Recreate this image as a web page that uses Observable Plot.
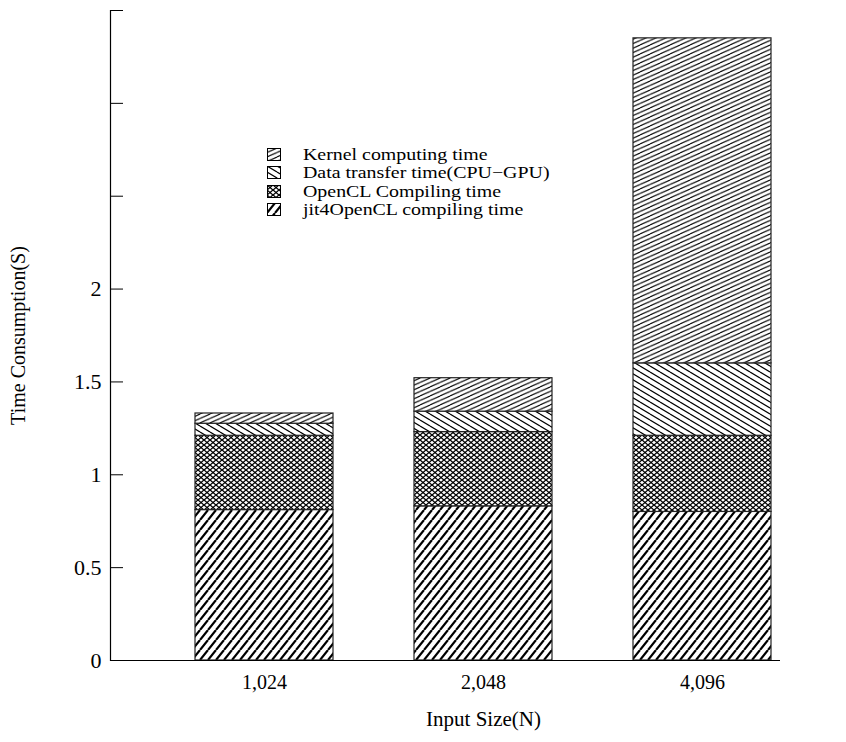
<!DOCTYPE html>
<html><head><meta charset="utf-8">
<script src="https://cdn.jsdelivr.net/npm/d3@7"></script>
<script src="https://cdn.jsdelivr.net/npm/@observablehq/plot@0.6"></script>
<style>
body{margin:0;background:#fff;}
#wrap{position:relative;width:846px;height:742px;font-family:"Liberation Serif","Times New Roman",serif;}
#legend{position:absolute;left:267px;top:145px;font-size:17px;line-height:17px;color:#000;}
.row{display:flex;align-items:center;height:18.5px;white-space:nowrap;}
.row svg{margin-right:21px;flex:none;}
.row span{display:inline-block;transform:scaleX(1.17);transform-origin:0 50%;}
</style></head><body>
<svg width="0" height="0" style="position:absolute">
<defs>
<pattern id="pat-kern" patternUnits="userSpaceOnUse" width="10" height="4.5">
<rect width="10" height="4.5" fill="#fff"/>
<path d="M0,4.5L10,0M0,0L10,-4.5M0,9L10,4.5" stroke="#000" stroke-width="1.1" fill="none"/></pattern>
<pattern id="pat-dt" patternUnits="userSpaceOnUse" width="10" height="6">
<rect width="10" height="6" fill="#fff"/>
<path d="M0,0L10,6M0,-6L10,0M0,6L10,12" stroke="#000" stroke-width="1.2" fill="none"/></pattern>
<pattern id="pat-ocl" patternUnits="userSpaceOnUse" width="6" height="5">
<rect width="6" height="5" fill="#fff"/>
<path d="M0,0L6,5M0,5L6,0" stroke="#000" stroke-width="1.3" fill="none"/></pattern>
<pattern id="pat-jit" patternUnits="userSpaceOnUse" width="8" height="10">
<rect width="8" height="10" fill="#fff"/>
<path d="M0,10L8,0M-8,10L0,0M8,10L16,0" stroke="#000" stroke-width="2.2" fill="none"/></pattern>
</defs></svg>
<div id="wrap"><div id="legend"></div></div>
<script>
const sizes = ["1,024", "2,048", "4,096"];
const series = ["jit4OpenCL compiling time", "OpenCL Compiling time", "Data transfer time(CPU\u2212GPU)", "Kernel computing time"];
const jitTime = [0.81, 0.83, 0.80];
const openclTime = [0.40, 0.40, 0.41];
const transferTime = [0.065, 0.11, 0.39];
const kernelTime = [0.055, 0.18, 1.75];
const yTicks = [0, 0.5, 1, 1.5, 2, 2.5, 3, 3.5];
const yLabeled = [0, 0.5, 1, 1.5, 2];
const patterns = ["url(#pat-jit)", "url(#pat-ocl)", "url(#pat-dt)", "url(#pat-kern)"];

const valuesBySeries = [jitTime, openclTime, transferTime, kernelTime];
const rows = [];
sizes.forEach((s, i) => series.forEach((name, k) => rows.push({size: s, series: name, value: valuesBySeries[k][i]})));

const font = '"Liberation Serif","Times New Roman",serif';
const chart = Plot.plot({
  width: 846, height: 742,
  marginLeft: 110, marginRight: 66, marginTop: 10, marginBottom: 82,
  style: {fontFamily: font, fontSize: "20px", color: "#000", background: "white"},
  x: {domain: sizes, range: [194, 772], paddingInner: 0.37, paddingOuter: 0, label: null},
  y: {domain: [0, 3.5], label: null},
  color: {domain: series, range: patterns, type: "ordinal"},
  marks: [
    Plot.barY(rows, {x: "size", y: "value", fill: "series", order: series, stroke: "#222", strokeWidth: 1.2}),
    Plot.ruleY([0], {stroke: "#000", strokeWidth: 1.2}),
    Plot.frame({anchor: "left", stroke: "#000", strokeWidth: 1.2}),
    Plot.axisY({ticks: yTicks, tickSize: -13, tickPadding: 22, fontSize: 22,
      tickFormat: d => yLabeled.includes(d) ? String(d) : "", label: null}),
    Plot.axisX({tickSize: 0, tickPadding: 14, fontSize: 20, label: null}),
    Plot.text(["Time Consumption(S)"], {frameAnchor: "left", textAnchor: "middle", rotate: -90, dx: -92, fontSize: 20, fill: "#000"}),
    Plot.text(["Input Size(N)"], {x: () => sizes[1], frameAnchor: "bottom", dy: 65, fontSize: 21, fill: "#000"})
  ]
});
document.getElementById("wrap").prepend(chart);

const legend = document.getElementById("legend");
[3, 2, 1, 0].forEach(k => {
  const row = document.createElement("div");
  row.className = "row";
  row.innerHTML = `<svg width="15" height="13"><rect x="0.5" y="0.5" width="13" height="12" fill="${patterns[k]}" stroke="#000" stroke-width="1"/></svg><span>${series[k]}</span>`;
  legend.appendChild(row);
});
</script>
</body></html>
